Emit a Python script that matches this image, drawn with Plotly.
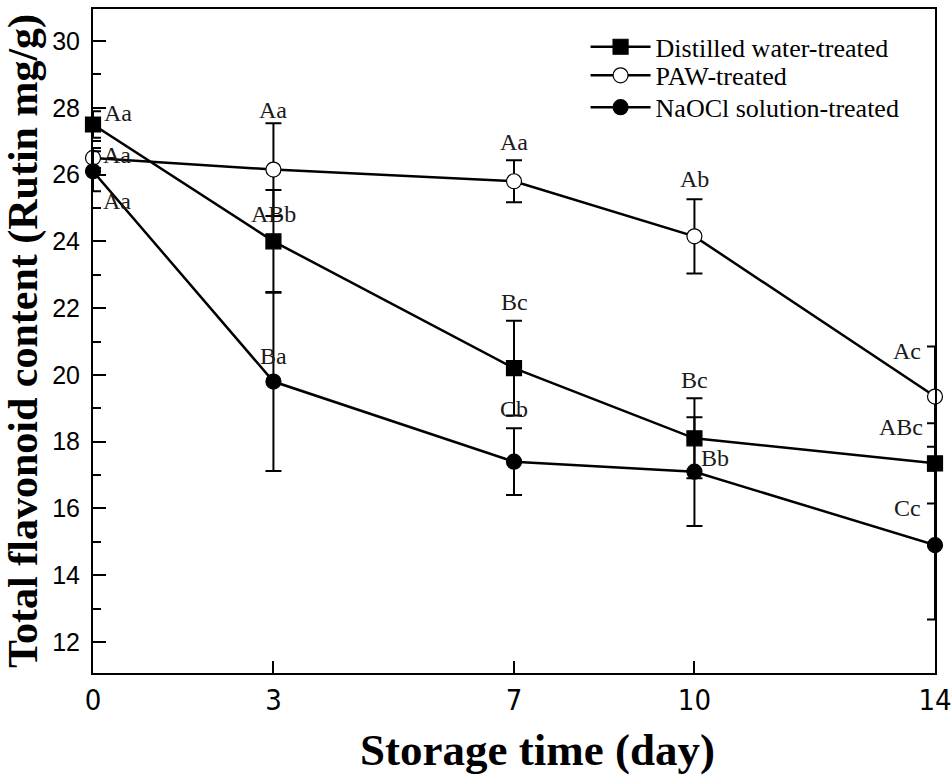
import plotly.graph_objects as go

# ---- data ----
days = [0, 3, 7, 10, 14]
series_names = ["Distilled water-treated", "PAW-treated", "NaOCl solution-treated"]
dw_vals = [27.5, 24.0, 20.2, 18.1, 17.35]
dw_err = [0.4, 1.54, 1.42, 1.2, 1.2]
paw_vals = [26.5, 26.15, 25.8, 24.15, 19.35]
paw_err = [0.3, 1.39, 0.63, 1.11, 1.5]
na_vals = [26.1, 19.8, 17.4, 17.1, 14.9]
na_err = [0.6, 2.68, 1.0, 1.63, 2.23]
dw_labels = ["Aa", "ABb", "Bc", "Bc", "ABc"]
paw_labels = ["Aa", "Aa", "Aa", "Ab", "Ac"]
na_labels = ["Aa", "Ba", "Cb", "Bb", "Cc"]
x_ticks = [0, 3, 7, 10, 14]
y_ticks = [12, 14, 16, 18, 20, 22, 24, 26, 28, 30]
y_minor = [11, 13, 15, 17, 19, 21, 23, 25, 27, 29]
x_title = "Storage time (day)"
y_title = "Total flavonoid content (Rutin mg/g)"

# ---- label placement styles (pixel offsets: xanchor, xshift, yshift) ----
dw_pos = [("left", 9, 12), ("center", 0, 27), ("center", 0, 66), ("center", 0, 58), ("right", -10, 36)]
paw_pos = [("left", 8, 3), ("center", 0, 60), ("center", 0, 39), ("center", 0, 57), ("right", -12, 46)]
na_pos = [("left", 8, -30), ("center", 0, 26), ("center", 0, 53), ("center", 21, 14), ("right", -12, 37)]

# legend row positions (fraction of plot height), one legend per series
legend_rows = [0.943, 0.900, 0.852]
legend_x = 0.585

SERIF = "Liberation Serif, Times New Roman, serif"

fig = go.Figure()

def add_series(name, vals, err, symbol, fill, legend_id):
    fig.add_trace(go.Scatter(
        x=days, y=vals, name=name, mode="lines+markers",
        line=dict(color="black", width=2.5),
        marker=dict(symbol=symbol, size=15, color=fill,
                    line=dict(color="black", width=1.2)),
        error_y=dict(type="data", array=err, visible=True,
                     color="black", thickness=2, width=8),
        cliponaxis=False,
        legend=legend_id,
    ))

add_series(series_names[0], dw_vals, dw_err, "square", "black", "legend")
add_series(series_names[1], paw_vals, paw_err, "circle", "white", "legend2")
add_series(series_names[2], na_vals, na_err, "circle", "black", "legend3")

annots = []
for vals, labels, pos in [(dw_vals, dw_labels, dw_pos),
                          (paw_vals, paw_labels, paw_pos),
                          (na_vals, na_labels, na_pos)]:
    for d, v, t, (xa, xs, ys) in zip(days, vals, labels, pos):
        annots.append(dict(x=d, y=v, xref="x", yref="y", text=t,
                           showarrow=False, xanchor=xa, yanchor="middle",
                           xshift=xs, yshift=ys,
                           font=dict(family=SERIF, size=24, color="#1a1a1a")))

# x-axis title as a paper annotation (slightly right of centre, as in the original)
annots.append(dict(x=0.5285, y=-0.116, xref="paper", yref="paper",
                   text="<b>" + x_title + "</b>", showarrow=False,
                   xanchor="center", yanchor="middle",
                   font=dict(family=SERIF, size=45, color="black")))

def legend_cfg(yrow):
    return dict(x=legend_x, y=yrow, xanchor="left", yanchor="middle",
                bgcolor="rgba(0,0,0,0)", borderwidth=0,
                font=dict(family=SERIF, size=26, color="black"),
                itemwidth=60, tracegroupgap=0)

fig.update_layout(
    width=951, height=780,
    margin=dict(l=93, r=16, t=9, b=107),
    paper_bgcolor="white", plot_bgcolor="white",
    annotations=annots,
    showlegend=True,
    legend=legend_cfg(legend_rows[0]),
    legend2=legend_cfg(legend_rows[1]),
    legend3=legend_cfg(legend_rows[2]),
    xaxis=dict(
        range=[0, 14], tickmode="array", tickvals=x_ticks,
        ticks="inside", ticklen=12, tickwidth=1.5, tickcolor="black",
        showline=True, linecolor="black", linewidth=2, mirror=True,
        showgrid=False, zeroline=False, automargin=False,
        ticklabeloverflow="allow",
        tickfont=dict(family="Liberation Sans Narrow, DejaVu Sans Condensed, Arial Narrow, Liberation Sans, sans-serif",
                      size=29, color="black"),
    ),
    yaxis=dict(
        range=[11.07, 30.96], tickmode="array", tickvals=y_ticks,
        ticks="inside", ticklen=13, tickwidth=1.5, tickcolor="black",
        minor=dict(tickmode="array", tickvals=y_minor,
                   ticks="inside", ticklen=8, tickwidth=1.5, tickcolor="black"),
        showline=True, linecolor="black", linewidth=2, mirror=True,
        showgrid=False, zeroline=False, automargin=False,
        ticklabelstandoff=6,
        tickfont=dict(family="Liberation Sans, Arial, sans-serif", size=25, color="black"),
        title=dict(text="<b>" + y_title + "</b>", standoff=6,
                   font=dict(family=SERIF, size=42, color="black")),
    ),
)

fig.write_html("out.html")
